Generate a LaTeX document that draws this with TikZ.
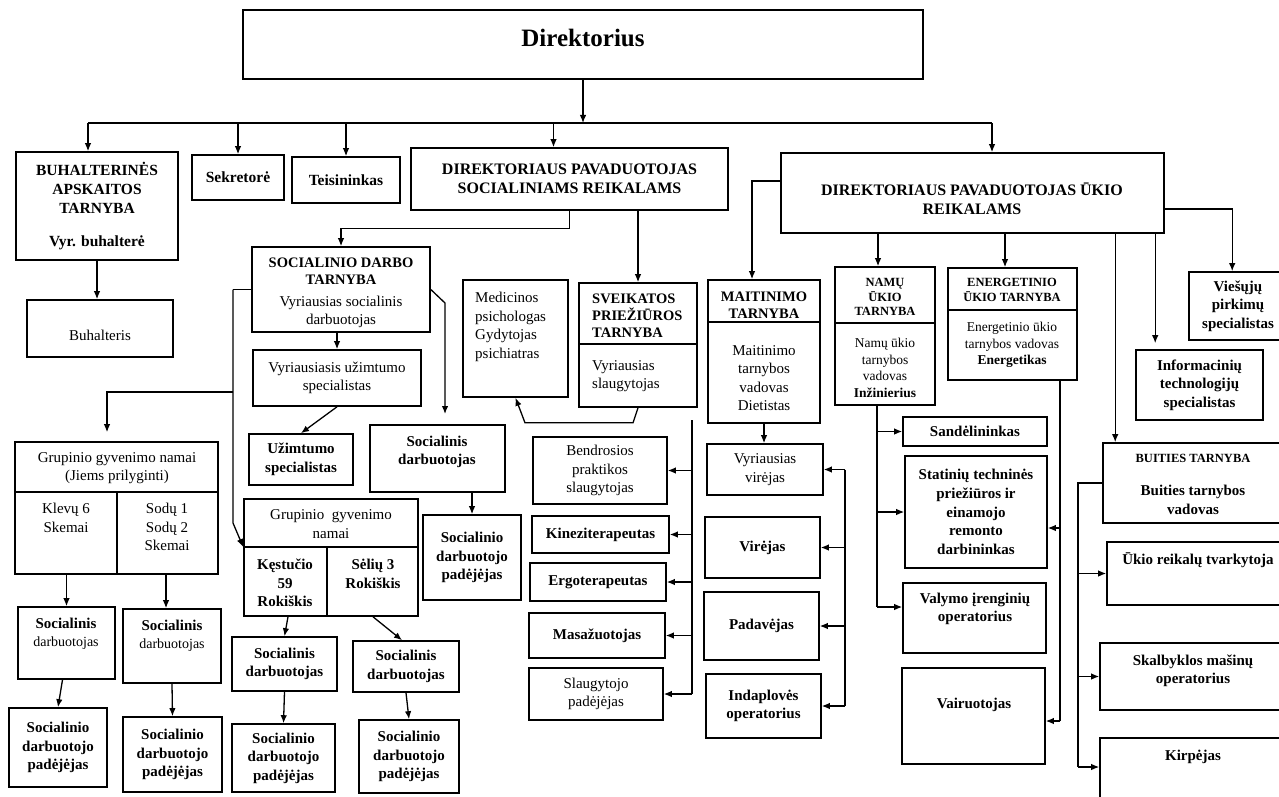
\documentclass[tikz,border=0pt]{standalone}
\usepackage{fontspec}
\setmainfont{Liberation Serif}
\usetikzlibrary{arrows.meta}
\begin{document}
\begin{tikzpicture}[x=1pt,y=-1pt,
  box/.style={draw, line width=1.6pt, inner sep=0pt, align=center},
  R/.style args={#1/#2/#3/#4}{minimum width={(#3)-(#1)}, minimum height={(#4)-(#2)}, at={({((#1)+(#3))/2},{((#2)+(#4))/2})}},
  div/.style={line width=1.6pt},
  rg/.style={font=\fontsize{15}{18.5}\selectfont, align=center, inner sep=0pt},
  bd/.style={font=\bfseries\fontsize{15}{18.5}\selectfont, align=center, inner sep=0pt},
  hd/.style={font=\bfseries\fontsize{14.5}{17}\selectfont, align=center, inner sep=0pt},
  sh/.style={font=\bfseries\fontsize{12.5}{14.5}\selectfont, align=center, inner sep=0pt},
  sm/.style={font=\fontsize{13.5}{16.7}\selectfont, align=center, inner sep=0pt},
  big/.style={font=\bfseries\fontsize{16}{19}\selectfont},
  bt/.style={font=\bfseries\fontsize{15.5}{19}\selectfont},
  arr/.style={line width=1.3pt, -{Latex[length=8pt,width=6.5pt]}},
  ln/.style={line width=1.3pt}]
\useasboundingbox (0,0) rectangle (1279,797);
\fill[white] (0,0) rectangle (1279,797);

% ---------- top level
\node[box, R=243/10/923/79] (dir) {};
\node[font=\bfseries\fontsize{25}{30}\selectfont, inner sep=0pt] (dirt) at (583,38) {Direktorius};
\node[box, bt, R=16/152/178/260] (buh) {BUHALTERINĖS\\APSKAITOS\\TARNYBA\\[14pt]Vyr. buhalterė};
\node[box, bt, R=192/155/284/200] (sek) {Sekretorė};
\node[box, bt, R=292/157/400/203] (teis) {Teisininkas};
\node[box, big, R=411/148/728/210] (dps) {DIREKTORIAUS PAVADUOTOJAS\\SOCIALINIAMS REIKALAMS};
\node[box, R=781/153/1164/233] (dpu) {};
\node[big, align=center, inner sep=0pt] (dput) at (972,199) {DIREKTORIAUS PAVADUOTOJAS ŪKIO\\REIKALAMS};
\node[box, R=27/300/173/357] (buhl) {};
\node[rg] (buhlt) at (100,335) {Buhalteris};

% ---------- social work
\node[box, R=252/247/430/332] (sdt) {};
\node[hd] (sdth) at (341,271) {SOCIALINIO DARBO\\TARNYBA};
\node[rg] (sdtt) at (341,312) {Vyriausias socialinis\\darbuotojas};
\node[box, rg, R=253/350/421/406] (vus) {Vyriausiasis užimtumo\\specialistas};
\node[box, bd, R=249/434/353/485] (us) {Užimtumo\\specialistas};
\node[box, R=370/425/505/492] (sdm) {};
\node[bd] (sdmt) at (437,452) {Socialinis\\darbuotojas};
\node[box, bd, R=423/515/521/600] (sdpm) {Socialinio\\darbuotojo\\padėjėjas};

% group home 1
\node[box, R=15/442/218/574] (g1) {};
\draw[div] (15,492) -- (218,492) (117,492) -- (117,574);
\node[rg] (g1h) at (117,468) {Grupinio gyvenimo namai\\(Jiems prilyginti)};
\node[rg] (g1a) at (66,518) {Klevų 6\\Skemai};
\node[rg] (g1b) at (167,527) {Sodų 1\\Sodų 2\\Skemai};
% group home 2
\node[box, R=244/499/418/616] (g2) {};
\draw[div] (244,547) -- (418,547) (327,547) -- (327,616);
\node[rg] (g2h) at (331,524) {Grupinio\ \ gyvenimo\\namai};
\node[bd] (g2a) at (285,583) {Kęstučio\\59\\Rokiškis};
\node[bd] (g2b) at (373,574) {Sėlių 3\\Rokiškis};

\node[box, R=18/607/115/679] (sd1) {};
\node[font=\fontsize{14}{17.5}\selectfont, align=center, inner sep=0pt] (sd1t) at (66,634) {\textbf{\fontsize{15}{17.5}\selectfont Socialinis}\\darbuotojas};
\node[box, R=123/609/221/683] (sd2) {};
\node[font=\fontsize{14}{17.5}\selectfont, align=center, inner sep=0pt] (sd2t) at (172,636) {\textbf{\fontsize{15}{17.5}\selectfont Socialinis}\\darbuotojas};
\node[box, bd, R=9/708/107/787] (sdp1) {Socialinio\\darbuotojo\\padėjėjas};
\node[box, bd, R=123/717/222/792] (sdp2) {Socialinio\\darbuotojo\\padėjėjas};
\node[box, bd, R=232/637/337/691] (sd3) {Socialinis\\darbuotojas};
\node[box, bd, R=353/641/459/692] (sd4) {Socialinis\\darbuotojas};
\node[box, bd, R=232/724/335/792] (sdp3) {Socialinio\\darbuotojo\\padėjėjas};
\node[box, bd, R=359/720/459/793] (sdp4) {Socialinio\\darbuotojo\\padėjėjas};

% ---------- health
\node[box, R=463/280/568/397] (med) {};
\node[rg, align=left, anchor=west] (medt) at (475,327) {Medicinos\\psichologas\\Gydytojas\\psichiatras};
\node[box, R=579/283/697/407] (sv) {};
\draw[div] (579,344) -- (697,344);
\node[hd, align=left, anchor=west] (svh) at (592,316) {SVEIKATOS\\PRIEŽIŪROS\\TARNYBA};
\node[rg, align=left, anchor=west] (svt) at (592,376) {Vyriausias\\slaugytojas};
\node[box, rg, R=533/437/667/504] (bend) {Bendrosios\\praktikos\\slaugytojas};
\node[box, bd, R=532/516/669/553] (kin) {Kineziterapeutas};
\node[box, bd, R=530/563/666/601] (erg) {Ergoterapeutas};
\node[box, bd, R=529/613/665/658] (mas) {Masažuotojas};
\node[box, rg, R=529/668/663/720] (slp) {Slaugytojo\\padėjėjas};

% ---------- catering
\node[box, R=708/280/820/423] (mt) {};
\draw[div] (708,322) -- (820,322);
\node[hd] (mth) at (764,305) {MAITINIMO\\TARNYBA};
\node[rg] (mtt) at (764,378) {Maitinimo\\tarnybos\\vadovas\\Dietistas};
\node[box, rg, R=707/444/823/495] (vv) {Vyriausias\\virėjas};
\node[box, bd, R=705/517/820/578] (vir) {Virėjas};
\node[box, bd, R=704/592/819/660] (pad) {Padavėjas};
\node[box, bd, R=706/674/821/738] (ind) {Indaplovės\\operatorius};

% ---------- household
\node[box, R=835/267/935/405] (namu) {};
\draw[div] (835,323) -- (935,323);
\node[sh] (namuh) at (885,297) {NAMŲ\\ŪKIO\\TARNYBA};
\node[sm] (namut) at (885,368) {Namų ūkio\\tarnybos\\vadovas\\\textbf{Inžinierius}};
\node[box, R=948/268/1077/380] (en) {};
\draw[div] (948,310) -- (1077,310);
\node[sh] (enh) at (1012,290) {ENERGETINIO\\ŪKIO TARNYBA};
\node[sm] (ent) at (1012,345) {Energetinio ūkio\\tarnybos vadovas\\\textbf{Energetikas}};
\node[box, bd, R=903/417/1047/446] (sand) {Sandėlininkas};
\node[box, bd, font=\bfseries\fontsize{15}{18.7}\selectfont, R=905/456/1047/568] (stat) {Statinių techninės\\priežiūros ir\\einamojo\\remonto\\darbininkas};
\node[box, R=903/583/1046/653] (val) {};
\node[bd] (valt) at (975,609) {Valymo įrenginių\\operatorius};
\node[box, R=902/668/1045/764] (vair) {};
\node[bd] (vairt) at (974,705) {Vairuotojas};
\node[box, bd, R=1136/350/1263/420] (info) {Informacinių\\technologijų\\specialistas};

\begin{scope}
\clip (0,0) rectangle (1279,797);
\node[box, R=1189/272/1295/340] (vies) {};
\node[box, R=1103/443/1295/523] (buit) {};
\node[box, R=1107/542/1295/605] (ukio) {};
\node[box, R=1100/643/1295/710] (skalb) {};
\node[box, R=1100/738/1295/815] (kirp) {};
\end{scope}
\node[bd] (viest) at (1238,306) {Viešųjų\\pirkimų\\specialistas};
\node[sh] (buith) at (1193,458) {BUITIES TARNYBA};
\node[bd] (buitt) at (1193,500) {Buities tarnybos\\vadovas};
\node[bd] (ukiot) at (1198,560) {Ūkio reikalų tvarkytoja};
\node[bd] (skalbt) at (1193,671) {Skalbyklos mašinų\\operatorius};
\node[bd] (kirpt) at (1193,757) {Kirpėjas};

% ---------- connectors
\coordinate (busL) at (88,123);
\coordinate (busR) at (992,123);
\draw[ln] (busL) -- (busR);
\draw[arr] (dir.south) -- (dir.south |- busL);
\draw[arr] (busL) -- (busL |- buh.north);
\draw[arr] (sek.north |- busL) -- (sek.north);
\draw[arr] (teis.north |- busL) -- (teis.north);
\draw[arr] ([xshift=-16pt]dps.north |- busL) -- ([xshift=-16pt]dps.north);
\draw[arr] (busR) -- (busR |- dpu.north);
\draw[arr] (buh.south) -- (buh.south |- buhl.north);

\draw[arr] (dps.south) -- ++(0,18) -| (sdt.north);
\draw[arr] (dps.south -| sv.north) -- (sv.north);
\draw[arr] ([yshift=12pt]dpu.west) -| ([xshift=-12pt]mt.north);
\draw[arr] ([xshift=-7pt]namu.north |- dpu.south) -- ([xshift=-7pt]namu.north);
\draw[arr] ([xshift=-7.5pt]en.north |- dpu.south) -- ([xshift=-7.5pt]en.north);
\draw[arr] ([xshift=13pt]buit.north west |- dpu.south) -- ([xshift=13pt]buit.north west);
\coordinate (infoT) at ([xshift=20pt,yshift=6pt]info.north west);
\draw[arr] (infoT |- dpu.south) -- (infoT);
\draw[arr] ([yshift=-16pt]dpu.east) -| ([xshift=44pt]vies.north west);

\draw[arr] (sdt.south -| vus.north) -- (vus.north);
\draw[arr] (vus.south) -- (us.north);
\coordinate (sdr) at (445,303);
\coordinate (sdmT) at (445,414);
\draw[arr] (sdt.east) -- (sdr) -- (sdmT);
\coordinate (sj) at (233,289.5);
\coordinate (sj2) at (233,392);
\coordinate (sj3) at (233,523);
\draw[ln] (sdt.west) -- (sj);
\draw[arr] (sj) -- (sj3) -- ([yshift=10.5pt]g2.west);
\coordinate (g1T) at ([xshift=-9.5pt,yshift=9pt]g1.north);
\draw[arr] (sj2) -| (g1T);
\draw[arr] (sd1.north |- g1.south) -- (sd1.north);
\draw[arr] ([xshift=-6pt]sd2.north |- g1.south) -- ([xshift=-6pt]sd2.north);
\draw[arr] ([xshift=-4pt]sd1.south) -- (sdp1.north);
\draw[arr] (sd2.south) -- (sdp2.north);
\draw[arr] ([xshift=-43pt]g2.south) -- (sd3.north);
\draw[arr] ([xshift=42pt]g2.south) -- ([xshift=-4pt]sd4.north);
\draw[arr] (sd3.south) -- (sdp3.north);
\draw[arr] (sd4.south) -- (sdp4.north);
\draw[arr] (sdpm.north |- sdm.south) -- (sdpm.north);

\draw[arr] (sv.south) -- ++(-5,15) -- ++(-108,0) -- (med.south);
\coordinate (lt) at (692,420);
\coordinate (lb) at (692,694);
\draw[ln] (lt) -- (lb);
\foreach \n in {bend,kin,erg,mas,slp} \draw[arr] (lt |- \n.east) -- (\n.east);

\draw[arr] (mt.south) -- (mt.south |- vv.north);
\coordinate (rt) at (845,469.5);
\coordinate (rb) at (845,706);
\draw[ln] (rt) -- (rb);
\foreach \n in {vv,vir,pad,ind} \draw[arr] (rt |- \n.east) -- (\n.east);

\coordinate (nb) at (877,607);
\draw[ln] ([xshift=-8pt]namu.south) -- (nb);
\draw[arr] (nb |- sand.west) -- (sand.west);
\draw[arr] (nb |- stat.west) -- (stat.west);
\draw[arr] (nb) -- (nb -| val.west);

\coordinate (eb) at (1060,721);
\coordinate (st2) at ([yshift=-16pt]stat.east);
\draw[ln] ([xshift=47.5pt]en.south) -- (eb);
\draw[arr] (eb |- st2) -- (st2);
\draw[arr] (eb) -- (eb -| vair.east);

\coordinate (bb) at (1078,767);
\draw[ln] (buit.west) -| (bb);
\draw[arr] (bb |- ukio.west) -- (ukio.west);
\draw[arr] (bb |- skalb.west) -- (skalb.west);
\draw[arr] (bb) -- (bb -| kirp.west);
\end{tikzpicture}
\end{document}
